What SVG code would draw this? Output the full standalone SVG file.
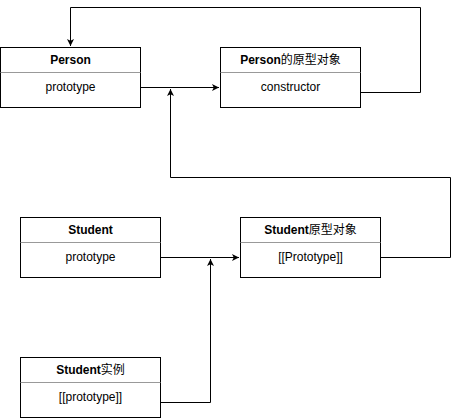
<svg xmlns="http://www.w3.org/2000/svg" width="459" height="418" viewBox="0 0 459 418">
<style>
.box{fill:#fff;stroke:#000;stroke-width:1}
.div{stroke:#999;stroke-width:1}
.t{font-family:"Liberation Sans","Noto Sans CJK SC",sans-serif;font-size:12px;text-anchor:middle;fill:#000}
.b{font-weight:bold}
.c{fill:none;stroke:#000;stroke-width:1}
</style>
<defs>
<marker id="ah" viewBox="0 0 10 10" refX="10" refY="5" markerWidth="7" markerHeight="7" markerUnits="userSpaceOnUse" orient="auto">
<path d="M0,0 L10,5 L0,10 L2.5,5 Z" fill="#000"/>
</marker>
</defs>
<g id="connectors">
<path class="c" d="M360.5,92.5 H420.5 V7.5 H70.5 V46" marker-end="url(#ah)"/>
<path class="c" d="M140.5,87.5 H219" marker-end="url(#ah)"/>
<path class="c" d="M380.5,257.5 H450.5 V177.5 H170.5 V89" marker-end="url(#ah)"/>
<path class="c" d="M160.5,257.5 H239" marker-end="url(#ah)"/>
<path class="c" d="M160.5,402.5 H210.5 V259" marker-end="url(#ah)"/>
</g>
<g id="person">
<rect class="box" x="0.5" y="47.5" width="140" height="60"/>
<line class="div" x1="0.5" y1="72.5" x2="140.5" y2="72.5"/>
<text class="t b" x="70.5" y="63.5">Person</text>
<text class="t" x="70.5" y="90.5">prototype</text>
</g>
<g id="person-proto">
<rect class="box" x="220.5" y="47.5" width="140" height="60"/>
<line class="div" x1="220.5" y1="72.5" x2="360.5" y2="72.5"/>
<text class="t" x="290.5" y="63.5"><tspan class="b">Person</tspan><tspan>的原型对象</tspan></text>
<text class="t" x="290.5" y="90.5">constructor</text>
</g>
<g id="student">
<rect class="box" x="20.5" y="217.5" width="140" height="60"/>
<line class="div" x1="20.5" y1="242.5" x2="160.5" y2="242.5"/>
<text class="t b" x="90.5" y="233.5">Student</text>
<text class="t" x="90.5" y="260.5">prototype</text>
</g>
<g id="student-proto">
<rect class="box" x="240.5" y="217.5" width="140" height="60"/>
<line class="div" x1="240.5" y1="242.5" x2="380.5" y2="242.5"/>
<text class="t" x="310.5" y="233.5"><tspan class="b">Student</tspan><tspan>原型对象</tspan></text>
<text class="t" x="310.5" y="260.5">[[Prototype]]</text>
</g>
<g id="student-instance">
<rect class="box" x="20.5" y="357.5" width="140" height="60"/>
<line class="div" x1="20.5" y1="382.5" x2="160.5" y2="382.5"/>
<text class="t" x="90.5" y="373.5"><tspan class="b">Student</tspan><tspan>实例</tspan></text>
<text class="t" x="90.5" y="400.5">[[prototype]]</text>
</g>
</svg>
